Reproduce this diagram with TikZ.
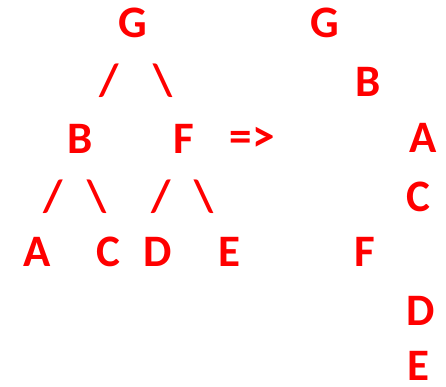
\documentclass[tikz,border=0pt]{standalone}
\usepackage{fontspec}
\setmainfont{Carlito}
\begin{document}
\begin{tikzpicture}[x=1pt,y=-1pt,
  glyph/.style={text=red,font=\fontsize{45}{54}\selectfont\bfseries,inner sep=0pt,anchor=center}]
\useasboundingbox (0,0) rectangle (446,386);
% the tree, drawn with characters
\node[glyph] (g)  at (133,23)  {G};
\node[glyph] (s1) at (109,81)  {/};
\node[glyph] (s2) at (163,81)  {\textbackslash};
\node[glyph] (b)  at (80,139)  {B};
\node[glyph] (f)  at (184,139) {F};
\node[glyph] (arr) at (252,139) {=>};
\node[glyph] (s3) at (53,197)  {/};
\node[glyph] (s4) at (97,197)  {\textbackslash};
\node[glyph] (s5) at (161,197) {/};
\node[glyph] (s6) at (204,197) {\textbackslash};
\node[glyph] (a)  at (37,252)  {A};
\node[glyph] (c)  at (108,252) {C};
\node[glyph] (d)  at (158,252) {D};
\node[glyph] (e)  at (229,252) {E};
% the same tree, written as an indented list
\node[glyph] (g2) at (325,23)  {G};
\node[glyph] (b2) at (368,82)  {B};
\node[glyph] (a2) at (423,138) {A};
\node[glyph] (c2) at (418,197) {C};
\node[glyph] (f2) at (365,252) {F};
\node[glyph] (d2) at (421,311) {D};
\node[glyph] (e2) at (418,366) {E};
\end{tikzpicture}
\end{document}
